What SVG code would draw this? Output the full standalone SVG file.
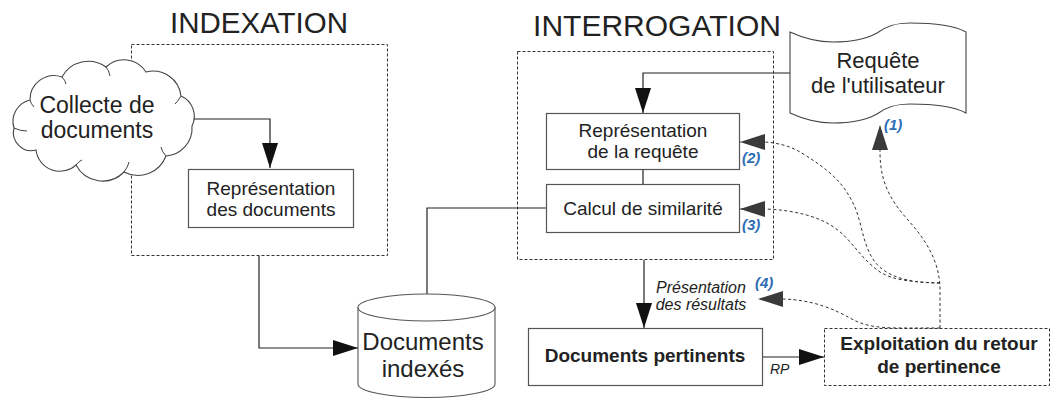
<svg xmlns="http://www.w3.org/2000/svg" width="1054" height="399" viewBox="0 0 1054 399">
  <style>
    text { font-family: "Liberation Sans", Arial, sans-serif; fill: #222; }
    .title { font-size: 29.5px; text-anchor: middle; }
    .box { fill: #fff; stroke: #555; stroke-width: 1.2; }
    .zone { fill: none; stroke: #333; stroke-width: 1; stroke-dasharray: 3 2; }
    .lbl { font-size: 19px; text-anchor: middle; }
    .bold { font-weight: bold; }
    .num { font-size: 15px; font-weight: bold; font-style: italic; fill: #2f6db5; }
    .wire { fill: none; stroke: #222; stroke-width: 1.2; }
    .fb { fill: none; stroke: #333; stroke-width: 1; stroke-dasharray: 3 2.5; }
    .curl { fill: none; stroke: #444; stroke-width: 1; }
  </style>
  <defs>
    <marker id="solid" markerUnits="userSpaceOnUse" markerWidth="26" markerHeight="17" refX="25" refY="8" orient="auto">
      <path d="M0,0 L25,8 L0,16 Z" fill="#111"/>
    </marker>
    <marker id="grey" markerUnits="userSpaceOnUse" markerWidth="26" markerHeight="17" refX="25" refY="8" orient="auto">
      <path d="M0,0 L25,8 L0,16 Z" fill="#3a3a3a"/>
    </marker>
  </defs>

  <rect width="1054" height="399" fill="#fff"/>

  <!-- zone titles -->
  <text class="title" x="259" y="33">INDEXATION</text>
  <text class="title" x="657" y="36" style="font-size:30px">INTERROGATION</text>

  <!-- dashed zones -->
  <rect id="zone-indexation" class="zone" x="131.5" y="44.5" width="256" height="211"/>
  <rect id="zone-interrogation" class="zone" x="517.5" y="51.5" width="256" height="208"/>

  <!-- connectors -->
  <g id="connectors">
    <path class="wire" d="M193,119 H270 V168" marker-end="url(#solid)"/>
    <path class="wire" d="M790,73 H643 V113" marker-end="url(#solid)"/>
    <path class="wire" d="M643,169 V184"/>
    <path class="wire" d="M546,208 H427 V294"/>
    <path class="wire" d="M259,256 V348 H358" marker-end="url(#solid)"/>
    <path class="wire" d="M644,260 V328" marker-end="url(#solid)"/>
    <path class="wire" d="M762,357 H824" marker-end="url(#solid)"/>
    <!-- feedback paths -->
    <path class="fb" d="M940,328 V290 C940,262 926,240 908,220 C889,199 880,180 880,152 L880,125" marker-end="url(#grey)"/>
    <path class="fb" d="M940,283 C905,283 885,275 875,262 C862,245 862,220 853,203 C843,183 830,170 800,152 C790,146 778,143 765,142 L740,142" marker-end="url(#grey)"/>
    <path class="fb" d="M940,283 C910,282 893,280 880,272 C860,258 852,240 835,228 C820,217 795,210 765,209 L740,209" marker-end="url(#grey)"/>
    <path class="fb" d="M940,328 L900,328 C875,328 862,325 850,318 C835,310 815,300 783,299 L758,299" marker-end="url(#grey)"/>
  </g>

  <!-- Collecte de documents -->
  <g id="collecte">
    <path d="M30,100 A24,24 0 0 1 62,77 A30,30 0 0 1 106,67 A26,26 0 0 1 146,72 A28,28 0 0 1 181,96 A22,22 0 0 1 192,126 A28,28 0 0 1 166,156 A30,30 0 0 1 124,172 A30,30 0 0 1 76,165 A24,24 0 0 1 36,150 A18,18 0 0 1 14,128 A22,22 0 0 1 30,100 Z" fill="#fff" stroke="#444" stroke-width="1.1"/>
    <path class="curl" d="M30,100 Q31,104 34,107 M14,128 Q20,131 27,131 M62,77 Q65,80 66,84 M106,67 Q109,70 110,76 M181,96 Q178,101 175,104 M166,156 Q162,152 161,147 M124,172 Q128,167 129,162 M76,165 Q79,161 82,160"/>
    <text x="97" y="113" style="font-size:23px;text-anchor:middle">Collecte de</text>
    <text x="97" y="138" style="font-size:23px;text-anchor:middle">documents</text>
  </g>

  <!-- Représentation des documents -->
  <g id="rep-docs">
    <rect class="box" x="188.5" y="169.5" width="165" height="58"/>
    <text class="lbl" x="271" y="195">Représentation</text>
    <text class="lbl" x="271" y="216">des documents</text>
  </g>

  <!-- Représentation de la requête -->
  <g id="rep-requete">
    <rect class="box" x="546.5" y="113.5" width="193" height="56"/>
    <text class="lbl" x="643" y="137">Représentation</text>
    <text class="lbl" x="643" y="158">de la requête</text>
  </g>

  <!-- Calcul de similarité -->
  <g id="calcul">
    <rect class="box" x="546.5" y="184.5" width="193" height="48"/>
    <text class="lbl" x="643" y="215">Calcul de similarité</text>
  </g>

  <!-- Requête de l'utilisateur -->
  <g id="requete">
    <path d="M790,32 C803,38 818,42 833,42 C852,42 868,38 877,33 C886,26 895,23 910,23 C935,23 955,26 966,32 L966,113 C955,107 935,104 910,104 C895,104 886,107 877,114 C868,119 852,123 833,123 C818,123 803,119 790,113 Z" fill="#fff" stroke="#444" stroke-width="1.1"/>
    <text x="878" y="68" style="font-size:22px;text-anchor:middle">Requête</text>
    <text x="878" y="93" style="font-size:22px;text-anchor:middle">de l'utilisateur</text>
  </g>

  <!-- Documents indexés -->
  <g id="docs-indexes">
    <path d="M358,307 V384 A68.5,13.5 0 0 0 495,384 V307" fill="#fff" stroke="#555" stroke-width="1.1"/>
    <ellipse cx="426.5" cy="307.5" rx="68.5" ry="13.5" fill="#fff" stroke="#555" stroke-width="1.1"/>
    <text x="423" y="350" style="font-size:24px;text-anchor:middle">Documents</text>
    <text x="423" y="377" style="font-size:24px;text-anchor:middle">indexés</text>
  </g>

  <!-- Documents pertinents -->
  <g id="docs-pertinents">
    <rect class="box" x="528.5" y="328.5" width="234" height="57"/>
    <text class="lbl bold" x="645" y="362">Documents pertinents</text>
  </g>

  <!-- Exploitation du retour de pertinence -->
  <g id="exploitation">
    <rect class="zone" x="824.5" y="328.5" width="225" height="57"/>
    <text class="lbl bold" x="939" y="350">Exploitation du retour</text>
    <text class="lbl bold" x="939" y="373">de pertinence</text>
  </g>

  <!-- edge labels -->
  <text x="770" y="374" style="font-size:14px;font-style:italic">RP</text>
  <text x="701" y="293" style="font-size:16px;font-style:italic;text-anchor:middle">Présentation</text>
  <text x="701" y="310" style="font-size:16px;font-style:italic;text-anchor:middle">des résultats</text>
  <text class="num" x="884" y="130">(1)</text>
  <text class="num" x="742" y="163">(2)</text>
  <text class="num" x="742" y="230">(3)</text>
  <text class="num" x="755" y="288">(4)</text>
</svg>
